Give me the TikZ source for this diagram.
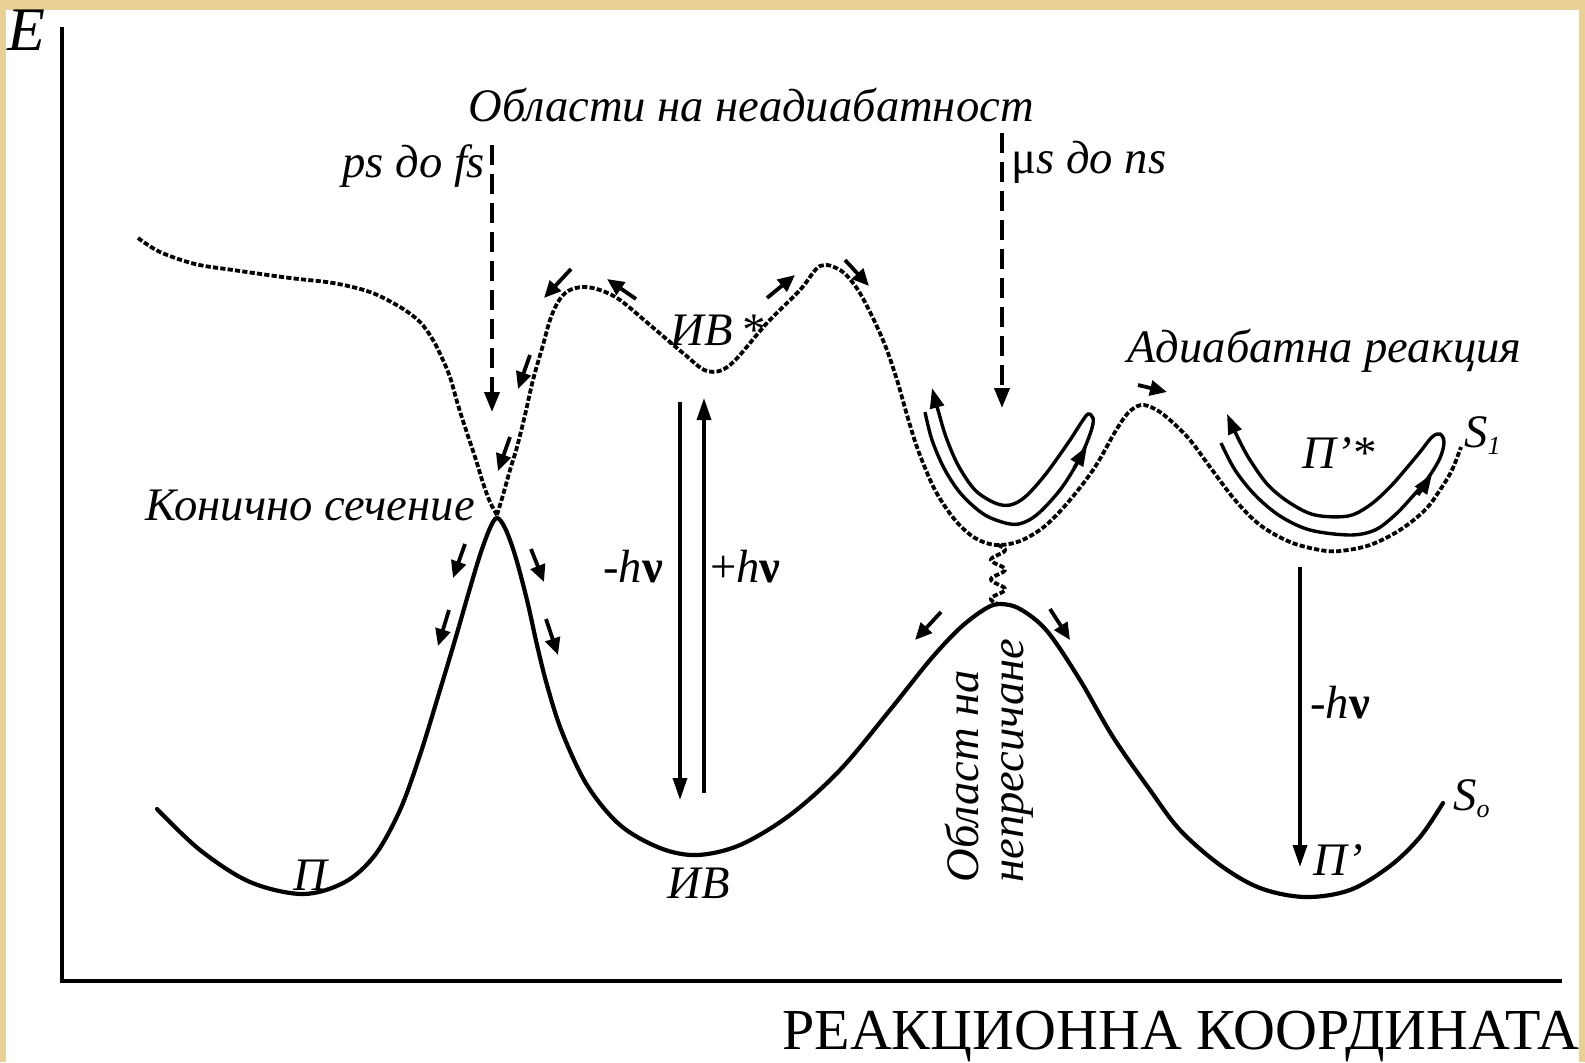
\documentclass[tikz,border=0pt]{standalone}
\usepackage{fontspec}
\setmainfont{Liberation Serif}
\usetikzlibrary{arrows.meta}
\definecolor{parch}{RGB}{232,208,150}
\newcommand\lblfont{\fontsize{23.3}{27}\selectfont\itshape}
\newcommand\nuu{{\upshape\bfseries ν}}
\begin{document}
\begin{tikzpicture}[x=0.5pt,y=-0.5pt,
  s0/.style={line width=2.1pt, line cap=round},
  s1/.style={line width=1.9pt, dash pattern=on 2.6pt off 1.1pt},
  tau/.style={line width=1.9pt, dash pattern=on 10pt off 4.5pt, -{Triangle[length=10pt,width=7.5pt]}},
  sm/.style={line width=1.9pt, -{Triangle[length=8.5pt,width=7.5pt]}},
  hv/.style={line width=1.7pt, -{Triangle[length=11pt,width=7pt]}},
  hp/.style={line width=1.7pt, -{Triangle[length=10pt,width=7pt]}},
  lbl/.style={inner sep=0pt, anchor=base west, font=\lblfont}]
\useasboundingbox (0,0) rectangle (1585,1062);
\fill[parch] (0,0) rectangle (1585,1062);
\fill[white] (6,10) rectangle (1579,1062);
% axes
\draw[line width=1.8pt] (62,27) -- (62,981) -- (1562,981);
\node[lbl, font=\fontsize{31}{33}\selectfont\itshape] (E) at (7,50) {E};
\node[lbl, font=\fontsize{29}{31}\selectfont] (rc) at (782,1049) {РЕАКЦИОННА КООРДИНАТА};
% S0 curve
\draw[s0] plot[smooth, tension=0.55] coordinates {(157,809) (200,850) (250,882) (303,894) (345,882) (375,855) (400,810) (420,755) (440,690) (455,640) (468,595) (480,555) (490,528) (497,518) (505,528) (515,555) (527,600) (537,645) (547,685) (562,732) (587,785) (620,825) (660,848) (697,855) (740,845) (790,815) (840,770) (890,710) (930,660) (960,628) (985,609) (1000,604) (1020,609) (1047,631) (1080,680) (1113,737) (1150,790) (1180,830) (1220,865) (1260,888) (1305,897) (1350,890) (1390,866) (1420,837) (1443,803)};
% S1 curve, left branch
\draw[s1] plot[smooth, tension=0.55] coordinates {(138,238) (160,252) (195,264) (233,270) (290,278) (333,283) (370,292) (400,307) (420,322) (433,340) (442,358) (450,377) (458,405) (467,433) (476,460) (483,483) (490,502) (497,515)};
% S1 curve, right branch
\draw[s1] plot[smooth, tension=0.55] coordinates {(497,515) (503,495) (510,470) (517,447) (525,415) (533,380) (543,345) (550,320) (558,302) (568,291) (583,287) (600,290) (620,300) (650,325) (683,353) (707,371) (730,365) (767,323) (800,290) (820,266) (840,270) (856,287) (870,312) (885,345) (897,380) (907,415) (918,450) (935,490) (955,520) (975,538) (996,545) (1020,541) (1045,526) (1070,500) (1095,467) (1115,432) (1128,413) (1141,405) (1155,409) (1170,420) (1190,440) (1210,467) (1235,500) (1260,525) (1290,542) (1320,550) (1340,551) (1370,545) (1400,530) (1425,510) (1440,490) (1452,470) (1461,447)};
% avoided crossing wiggle
\draw[s1] plot[domain=0:1, samples=90, smooth] ({998+7*sin(3*360*\x)}, {545+59*\x});
% dashed time-scale arrows
\coordinate (t1a) at (492,145); \coordinate (t1b) at (492,412);
\coordinate (t2a) at (1002,133); \coordinate (t2b) at (1002,408);
\draw[tau] (t1a) -- (t1b);
\draw[tau] (t2a) -- (t2b);
% photon arrows
\coordinate (d1) at (680,402); \coordinate (d2) at (680,800);
\coordinate (u1) at (704,793); \coordinate (u2) at (704,398);
\coordinate (r1) at (1300,567); \coordinate (r2) at (1300,867);
\draw[hv] (d1) -- (d2);
\draw[hv] (u1) -- (u2);
\draw[hv] (r1) -- (r2);
% small arrows
\draw[sm] (530,355) -- (518,389);
\draw[sm] (510,437) -- (498,471);
\draw[sm] (571,269) -- (544,298);
\draw[sm] (636,299) -- (607,279);
\draw[sm] (767,298) -- (795,275);
\draw[sm] (845,260) -- (869,286);
\draw[sm] (1138,385) -- (1167,392);
\draw[sm] (465,544) -- (453,578);
\draw[sm] (449,610) -- (438,646);
\draw[sm] (531,549) -- (544,582);
\draw[sm] (546,619) -- (558,655);
\draw[sm] (941,612) -- (915,640);
\draw[sm] (1050,609) -- (1070,640);
% hairpin loops
\draw[hp] plot[smooth, tension=0.55] coordinates {(925,412) (932,440) (945,470) (962,495) (985,515) (1010,524) (1025,522) (1040,512) (1060,490) (1075,467) (1085,447) (1092,428) (1093,418) (1088,414) (1081,423) (1068,443) (1045,475) (1025,497) (1010,505) (995,503) (975,490) (958,465) (946,437) (938,410) (932,388)};
\draw[hp] (1074,468) -- (1087,446);
\draw[hp] plot[smooth, tension=0.55] coordinates {(1221,443) (1235,470) (1255,495) (1280,516) (1310,530) (1350,535) (1375,530) (1395,515) (1412,497) (1428,478) (1440,458) (1444,442) (1440,434) (1432,437) (1420,452) (1405,470) (1390,487) (1370,505) (1348,516) (1315,515) (1290,503) (1268,485) (1250,460) (1238,438) (1227,414)};
\draw[hp] (1418,495) -- (1432,474);
% labels
\node[lbl] (nad) at (468,121) {Области на неадиабатност};
\node[lbl] (ps) at (342,177) {ps до fs};
\node[lbl] (mus) at (1011,173) {{\upshape μ}s до ns};
\node[lbl] (ivs) at (670,345) {ИВ\,*};
\node[lbl] (adr) at (1127,362) {Адиабатна реакция};
\node[lbl] (s1) at (1464,447) {S\raisebox{-0.35ex}{\fontsize{13}{13}\selectfont 1}};
\node[lbl] (pps) at (1302,468) {П’*};
\node[lbl] (kon) at (145,520) {Конично сечение};
\node[lbl] (mhv) at (603,582) {-h\nuu};
\node[lbl] (phv) at (710,582) {{\upshape +}h\nuu};
\node[lbl] (mhv2) at (1310,718) {-h\nuu};
\node[lbl] (s0) at (1453,810) {S\raisebox{-0.35ex}{\fontsize{13}{13}\selectfont o}};
\node[lbl] (pp) at (1313,875) {П’};
\node[lbl] (p) at (293,890) {П};
\node[lbl] (iv) at (667,898) {ИВ};
\node[lbl, rotate=90] (ob1) at (978,883) {Област на};
\node[lbl, rotate=90] (ob2) at (1023,883) {непресичане};
\end{tikzpicture}
\end{document}
